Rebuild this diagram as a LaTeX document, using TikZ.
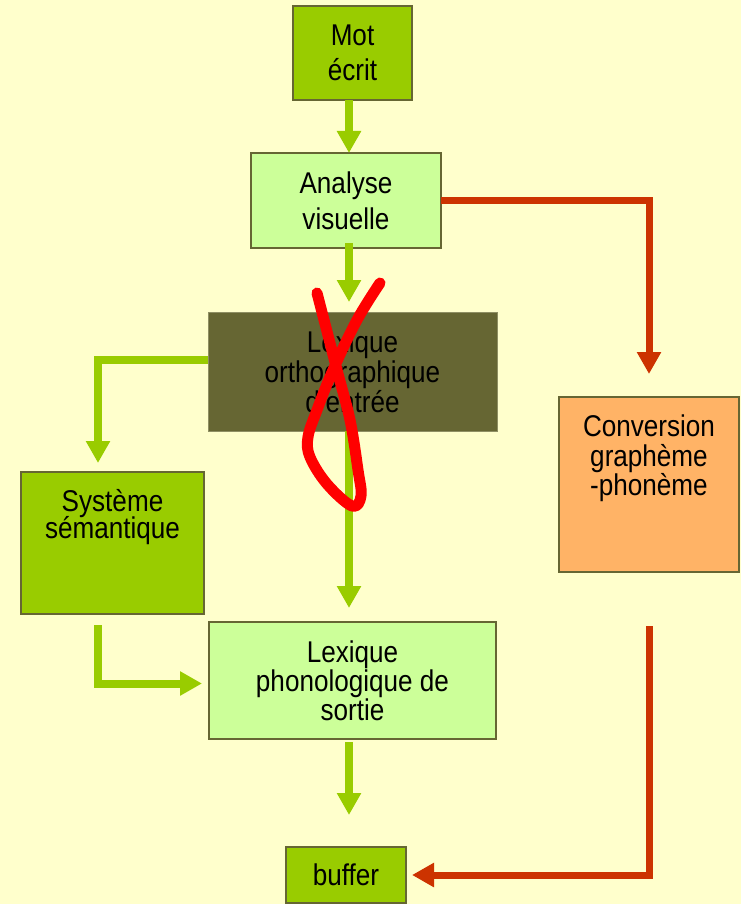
\documentclass[tikz,border=0pt]{standalone}
\usepackage{fontspec}
\setmainfont{Liberation Sans}[FakeStretch=0.87]
\usetikzlibrary{arrows.meta, calc}

\definecolor{bgyellow}{HTML}{FFFFCC}
\definecolor{wordgreen}{HTML}{99CC00}
\definecolor{palegreen}{HTML}{CCFF99}
\definecolor{olivefill}{HTML}{666633}
\definecolor{boxline}{HTML}{666633}
\definecolor{lexline}{HTML}{8F8F63}
\definecolor{gpcorange}{HTML}{FFB366}
\definecolor{arrowred}{HTML}{CC3300}
\definecolor{crossred}{HTML}{FF0000}

\newcommand{\boxfont}[1]{\fontsize{30}{#1}\selectfont\lineskiplimit=-50pt}

\begin{document}
\begin{tikzpicture}[x=1pt, y=-1pt,
block/.style = {rectangle, draw=boxline, line width=2.5pt, align=center, inner sep=0pt, outer sep=0pt},
toplabel/.style = {anchor=north, align=center, inner sep=0pt},
garrow/.style = {line width=8pt, draw=wordgreen, -{Triangle[width=23pt, length=22pt]}},
rarrow/.style = {line width=7pt, draw=arrowred, -{Triangle[width=23pt, length=22pt]}}]

  \fill[bgyellow] (0,0) rectangle (741,904);
  \useasboundingbox (0,0) rectangle (741,904);
  \coordinate (axis) at (349,0);

  \node[block, fill=wordgreen, minimum width=119pt, minimum height=94pt, font=\boxfont{35}] (mot) at (352.5,53) {Mot\\écrit};
  \node[block, fill=palegreen, minimum width=190pt, minimum height=95pt, font=\boxfont{36}] (ana) at (346,200.5) {Analyse\\visuelle};
  \node[block, fill=olivefill, draw=lexline, line width=1pt, minimum width=289pt, minimum height=119pt, font=\boxfont{30}] (lex_in) at (352.5,371.5) {Lexique\\orthographique\\d'entrée};
  \node[block, fill=wordgreen, minimum width=183pt, minimum height=142pt,
    label={[toplabel, yshift=-17pt, font=\boxfont{27}]north:Système\\sémantique}] (sem) at (112.5,543) {};
  \node[block, fill=gpcorange, minimum width=180pt, minimum height=175pt,
    label={[toplabel, yshift=-18pt, font=\boxfont{29.5}]north:Conversion\\graphème\\-phonème}] (gpc) at (649,484.5) {};
  \node[block, fill=palegreen, minimum width=287pt, minimum height=117pt, font=\boxfont{29}] (lex_out) at (352.5,680.5) {Lexique\\phonologique de\\sortie};
  \node[block, fill=wordgreen, minimum width=120pt, minimum height=56pt, font=\boxfont{30}] (buffer) at (346,875) {buffer};

  \draw[garrow] (mot.south -| axis) -- (ana.north -| axis);
  \draw[garrow] ($(ana.south -| axis)+(0,-5)$) -- ($(lex_in.north -| axis)+(0,-10)$);
  \draw[garrow] ($(lex_in.west)+(0,-11.5)$) -| ($(sem.north)+(-14.5,-9)$);
  \draw[garrow] ($(sem.south)+(-14.5,11)$) |- ($(lex_out.west)+(-7,3)$);
  \draw[garrow] (lex_in.south -| axis) -- ($(lex_out.north -| axis)+(0,-14)$);
  \draw[garrow] ($(lex_out.south -| axis)+(0,3)$) -- ($(buffer.north -| axis)+(0,-32)$);

  \draw[rarrow] (ana.east) -| ($(gpc.north)+(0,-23)$);
  \draw[rarrow] ($(gpc.south)+(0,54)$) |- ($(buffer.east)+(6,0)$);

  \draw[crossred, line width=11pt, line cap=round, line join=round] plot[smooth, tension=0.6] coordinates {
    (317,293) (337,370) (350,420) (358,470) (361,496) (352,506) (327,484)
    (310,457) (308,437) (317,410) (333,370) (357,320) (380,283)};

\end{tikzpicture}
\end{document}
